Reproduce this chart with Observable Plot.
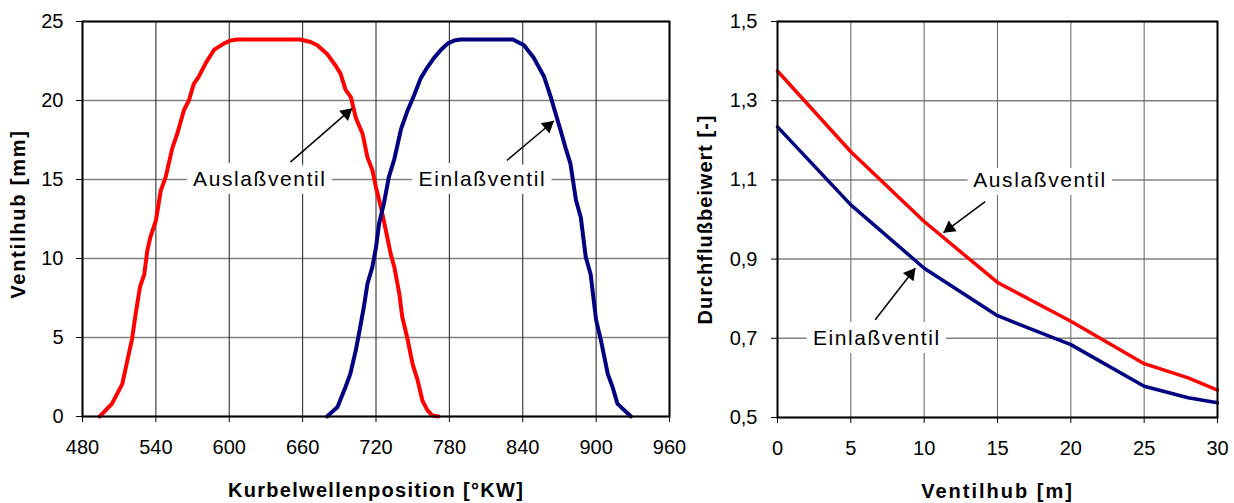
<!DOCTYPE html>
<html><head><meta charset="utf-8">
<script src="https://cdn.jsdelivr.net/npm/d3@7"></script>
<script src="https://cdn.jsdelivr.net/npm/@observablehq/plot@0.6"></script>
<style>
html,body{margin:0;padding:0;background:#fff;}
#wrap{display:flex;width:1234px;height:503px;}
#wrap svg{display:block;flex:none;}
</style></head><body><div id="wrap"></div>
<script>
// ---- Left chart: Ventilhub über Kurbelwellenposition ----
const kwAus  = [494,504,512.5,516,520.5,523.5,527,530.5,533,535.5,540,544,548,553.5,557.5,563,567,571,575,581,587.5,595.5,601,606.5,658,666.5,672,680,687,691,695,699.5,703.5,709,713,717,720,724,728,732,735,739,741.5,745.5,750,754,758,762,766,771];
const hubAus = [0,0.8,2.05,3.3,4.9,6.5,8.2,9.0,10.5,11.35,12.4,14.3,15.15,17.0,17.9,19.4,20.0,21.05,21.5,22.4,23.2,23.6,23.8,23.86,23.86,23.7,23.5,22.95,22.2,21.7,20.7,20.2,18.9,17.9,16.4,15.6,14.5,13.25,11.8,10.3,9.45,7.8,6.3,5.0,3.3,2.3,1.0,0.4,0.06,0];
const kwEin  = [680,688.5,695,699,703.5,706,710,713,717,720,722.5,726.5,730.5,735,740.5,745.5,751,756.5,762,767.5,773,778.5,784,789,832,841,849,857.5,863,866,871,875,879,883.5,887.5,891.5,895.5,900,904,909.5,913.5,917.5,928.5];
const hubEin = [0,0.6,1.85,2.7,4.2,5.2,6.9,8.4,9.45,10.7,12.2,13.5,15.15,16.3,18.2,19.3,20.3,21.4,22.1,22.7,23.2,23.6,23.8,23.86,23.86,23.5,22.7,21.5,20.2,19.4,18.1,17.0,16.0,13.7,12.6,10.1,9.0,6.1,4.8,2.7,1.85,0.8,0];
const xTicksL = [480,540,600,660,720,780,840,900,960];
const yTicksL = [0,5,10,15,20,25];
const xTitleL = "Kurbelwellenposition [°KW]";
const yTitleL = "Ventilhub [mm]";
const noteTextL = ["Auslaßventil","Einlaßventil"];
const noteXL = [625,807];
const noteYL = [15,15];
const arrX1L = [650,827], arrY1L = [16.1,16.2], arrX2L = [700.5,865.4], arrY2L = [19.5,18.7];

// ---- Right chart: Durchflußbeiwert über Ventilhub ----
const lift  = [0,5,10,15,20,25,28,30];
const cdAus = [1.375,1.171,0.995,0.841,0.743,0.636,0.600,0.569];
const cdEin = [1.234,1.037,0.877,0.757,0.684,0.579,0.550,0.537];
const xTicksR = [0,5,10,15,20,25,30];
const yTicksR = [0.5,0.7,0.9,1.1,1.3,1.5];
const xTitleR = "Ventilhub [m]";
const yTitleR = "Durchflußbeiwert [-]";
const noteTextR = ["Auslaßventil","Einlaßventil"];
const noteXR = [17.9,6.77];
const noteYR = [1.1,0.70];
const arrX1R = [14.16,6.66], arrY1R = [1.045,0.747], arrX2R = [11.32,9.39], arrY2R = [0.967,0.877];

const RED = "#ff0000", NAVY = "#000080";
const fontFamily = "'Liberation Sans', Arial, Helvetica, sans-serif";
const comma = d3.formatLocale({decimal: ",", thousands: ".", grouping: [3], currency: ["", "€"]}).format(".1f");

function series(xs, ys) { return xs.map((x, i) => ({x, y: ys[i]})); }
function notes(t, xs, ys) { return t.map((s, i) => ({t: s, x: xs[i], y: ys[i]})); }
function arrows(x1, y1, x2, y2) { return x1.map((v, i) => ({x1: v, y1: y1[i], x2: x2[i], y2: y2[i]})); }

function arrowMarks(arr, kx, ky) {
  const marks = [Plot.link(arr, {x1: "x1", y1: "y1", x2: "x2", y2: "y2", stroke: "#000", strokeWidth: 1.5})];
  for (const a of arr) {
    const sx = (a.x2 - a.x1) * kx, sy = -(a.y2 - a.y1) * ky;
    const L = Math.hypot(sx, sy), ux = sx / L, uy = sy / L;
    const ang = Math.atan2(ux, -uy) * 180 / Math.PI;
    marks.push(Plot.dot([a], {x: "x2", y: "y2", symbol: "triangle", r: 5, fill: "#000", stroke: "none", rotate: ang, dx: -7.5 * ux, dy: -7.5 * uy}));
  }
  return marks;
}

function chart(o) {
  const kx = (o.width - o.ml - o.mr) / (o.xd[1] - o.xd[0]);
  const ky = (o.height - o.mt - o.mb) / (o.yd[1] - o.yd[0]);
  const svg = Plot.plot({
    width: o.width, height: o.height,
    marginLeft: o.ml, marginRight: o.mr, marginTop: o.mt, marginBottom: o.mb,
    style: {fontFamily, fontSize: "20px", color: "#000", background: "#fff", overflow: "visible"},
    x: {domain: o.xd, ticks: o.xt, tickSize: 6, tickPadding: 17, label: null, tickFormat: o.xf},
    y: {domain: o.yd, ticks: o.yt, tickSize: 6, tickPadding: o.ypad, label: null, tickFormat: o.yf},
    marks: [
      Plot.ruleY(o.yt, {stroke: "#808080", strokeWidth: 1.5}),
      Plot.ruleX(o.xt, {stroke: o.vgrid, strokeWidth: 1.1}),
      Plot.line(o.s1, {x: "x", y: "y", stroke: RED, strokeWidth: o.lw, strokeLinejoin: "round"}),
      Plot.line(o.s2, {x: "x", y: "y", stroke: NAVY, strokeWidth: o.lw, strokeLinejoin: "round"}),
      ...arrowMarks(o.arr, kx, ky),
      Plot.text(o.notes, {x: "x", y: "y", text: "t", fontSize: 21, fill: "#000", stroke: "#fff", strokeWidth: 16, strokeLinejoin: "miter"}),
      Plot.frame({stroke: "#000", strokeWidth: 2}),
      Plot.text([o.xTitle], {text: d => d, frameAnchor: "bottom", textAnchor: "middle", lineAnchor: "middle", dy: o.xTitleDy, fontWeight: "bold", fontSize: 20}),
      Plot.text([o.yTitle], {text: d => d, frameAnchor: "left", textAnchor: "middle", lineAnchor: "middle", rotate: -90, dx: o.yTitleDx, dy: o.yTitleDy, fontWeight: "bold", fontSize: 20})
    ]
  });
  for (const t of svg.querySelectorAll("text")) {
    const s = t.textContent;
    if (o.spacing[s] != null) t.setAttribute("letter-spacing", o.spacing[s]);
  }
  return svg;
}

const left = chart({
  width: 690, height: 503, ml: 82, mr: 21, mt: 21, mb: 87,
  xd: [480, 960], yd: [0, 25], xt: xTicksL, yt: yTicksL, ypad: 13,
  xf: d3.format("d"), yf: d3.format("d"), vgrid: "#303030", lw: 4,
  s1: series(kwAus, hubAus), s2: series(kwEin, hubEin),
  arr: arrows(arrX1L, arrY1L, arrX2L, arrY2L),
  notes: notes(noteTextL, noteXL, noteYL),
  xTitle: xTitleL, yTitle: yTitleL, xTitleDy: 74, yTitleDx: -63.5, yTitleDy: -5,
  spacing: {[xTitleL]: "1.3", [yTitleL]: "1.8", "Auslaßventil": "1.6", "Einlaßventil": "1.6"}
});
const right = chart({
  width: 544, height: 503, ml: 87, mr: 17, mt: 21, mb: 86,
  xd: [0, 30], yd: [0.5, 1.5], xt: xTicksR, yt: yTicksR, ypad: 14,
  xf: d3.format("d"), yf: comma, vgrid: "#707070", lw: 3.5,
  s1: series(lift, cdAus), s2: series(lift, cdEin),
  arr: arrows(arrX1R, arrY1R, arrX2R, arrY2R),
  notes: notes(noteTextR, noteXR, noteYR),
  xTitle: xTitleR, yTitle: yTitleR, xTitleDy: 74, yTitleDx: -71.5, yTitleDy: 0,
  spacing: {[xTitleR]: "2", [yTitleR]: "1", "Auslaßventil": "1.6", "Einlaßventil": "1.6"}
});
document.getElementById("wrap").append(left, right);
</script></body></html>
